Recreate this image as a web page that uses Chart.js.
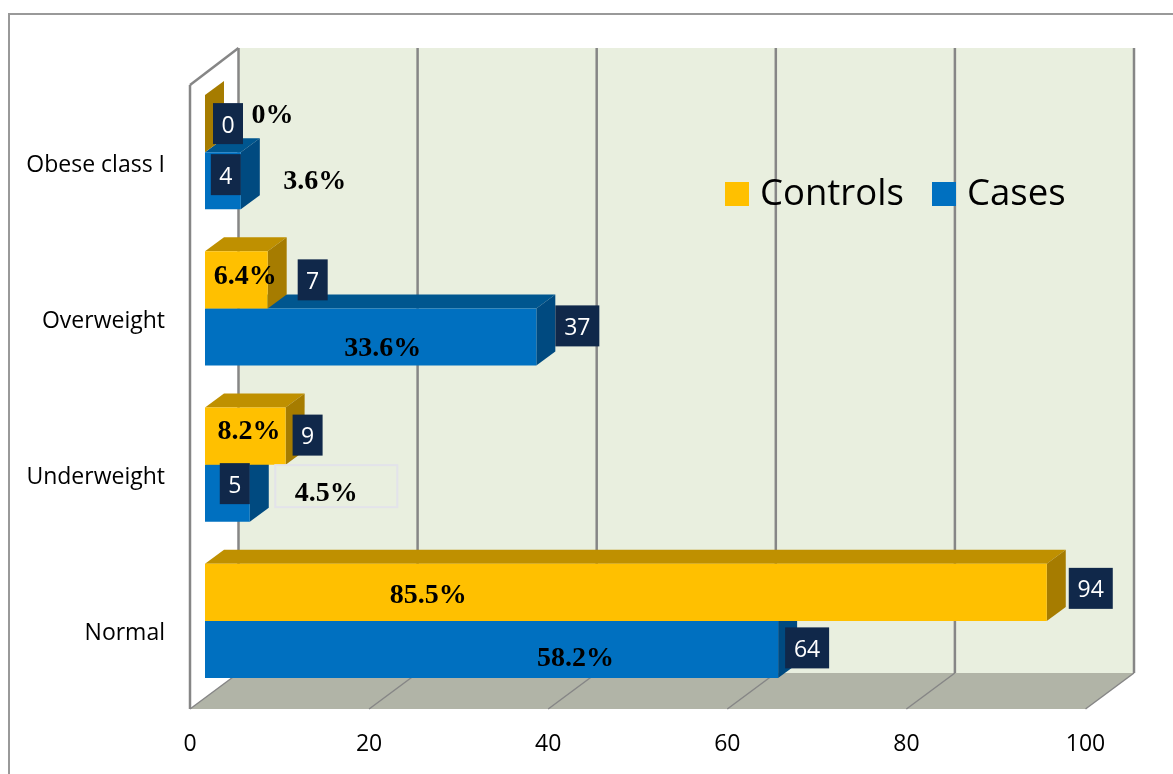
<!DOCTYPE html>
<html>
<head>
<meta charset="utf-8">
<title>BMI categories</title>
<script src="https://cdn.jsdelivr.net/npm/chart.js@4"></script>
<style>
  body { margin: 0; background: #fff; }
  canvas { display: block; }
</style>
</head>
<body>
<canvas id="chart" width="1173" height="774"></canvas>
<script>
const categories = ['Obese class I', 'Overweight', 'Underweight', 'Normal'];
const controls = [0, 7, 9, 94];
const cases = [4, 37, 5, 64];
const controlsPct = ['0%', '6.4%', '8.2%', '85.5%'];
const casesPct = ['3.6%', '33.6%', '4.5%', '58.2%'];
const xTicks = [0, 20, 40, 60, 80, 100];

// label nudges, measured from the bar end and the bar middle: [dx, dy]
const countNudge = [
  [[23, 0], [45, 0], [22, -1], [44, -4]],
  [[-15, -6], [41, -11], [-15, -9.5], [29, -1.5]]
];
const pctNudge = [
  [[67.5, -8], [-22.5, -3], [-36.5, -4], [-618.5, 3]],
  [[74, 1.5], [-153.5, 12], [76.5, 0.5], [-202.5, 9.5]]
];

const FONT = '"Open Sans", sans-serif';
const faces = [
  { top: '#BF9000', side: '#A67C00' },
  { top: '#00568F', side: '#004A80' }
];

// depth of the box the chart sits in, and of a single bar
const WALL_DX = 48.5, WALL_DY = 36, BAR_DX = 19, BAR_DY = 14;
// the front edge of the floor starts left of where the bars do
const FRONT_SHIFT = -15;

function poly(ctx, pts, fill) {
  ctx.beginPath();
  pts.forEach((p, i) => i ? ctx.lineTo(p[0], p[1]) : ctx.moveTo(p[0], p[1]));
  ctx.closePath();
  ctx.fillStyle = fill;
  ctx.fill();
}

function line(ctx, x1, y1, x2, y2, width) {
  ctx.beginPath();
  ctx.moveTo(x1, y1);
  ctx.lineTo(x2, y2);
  ctx.lineWidth = width;
  ctx.strokeStyle = '#868686';
  ctx.stroke();
}

const box3d = {
  id: 'box3d',
  beforeDraw(chart) {
    const { ctx } = chart;
    ctx.save();
    // outer frame, open on the right and at the bottom
    ctx.strokeStyle = '#999999';
    ctx.lineWidth = 2;
    ctx.beginPath();
    ctx.moveTo(9, 774);
    ctx.lineTo(9, 14);
    ctx.lineTo(1173, 14);
    ctx.stroke();
    ctx.restore();
  },
  beforeDatasetsDraw(chart) {
    const { ctx, scales: { x } } = chart;
    const front = v => x.getPixelForValue(v) + FRONT_SHIFT;
    const back = v => front(v) + WALL_DX;
    const floorY = 709, wallBottom = floorY - WALL_DY, frontTop = 85, wallTop = frontTop - WALL_DY - 1;
    ctx.save();
    poly(ctx, [[back(0), wallTop], [back(100), wallTop], [back(100), wallBottom], [back(0), wallBottom]], '#E9EFDF');
    poly(ctx, [[front(0), floorY], [back(0), wallBottom], [back(100), wallBottom], [front(100), floorY]], '#B1B4A7');
    xTicks.forEach(v => {
      line(ctx, back(v), wallTop, back(v), wallBottom, 2.5);
      line(ctx, front(v), floorY, back(v), wallBottom, 1.5);
    });
    line(ctx, front(0), frontTop, front(0), floorY, 2.5);
    line(ctx, front(0), frontTop, back(0), wallTop, 2.5);

    // tops and end faces of the bars, blue first so the gold faces sit over them
    [1, 0].forEach(d => {
      chart.getDatasetMeta(d).data.forEach(bar => {
        const y0 = bar.y - bar.height / 2, y1 = bar.y + bar.height / 2;
        const x0 = x.getPixelForValue(0), x1 = bar.x;
        poly(ctx, [[x0, y0], [x0 + BAR_DX, y0 - BAR_DY], [x1 + BAR_DX, y0 - BAR_DY], [x1, y0]], faces[d].top);
        poly(ctx, [[x1, y0], [x1 + BAR_DX, y0 - BAR_DY], [x1 + BAR_DX, y1 - BAR_DY], [x1, y1]], faces[d].side);
      });
    });
    ctx.restore();
  },
  afterDatasetsDraw(chart) {
    const { ctx } = chart;
    const pct = [controlsPct, casesPct];
    ctx.save();
    ctx.textBaseline = 'middle';
    ctx.textAlign = 'center';

    chart.data.datasets.forEach((ds, d) => {
      chart.getDatasetMeta(d).data.forEach((bar, i) => {
        // count in a dark box
        const [cdx, cdy] = countNudge[d][i];
        const cx = bar.x + cdx, cy = bar.y + cdy;
        const w = String(ds.data[i]).length > 1 ? 44 : 30;
        ctx.fillStyle = '#10284A';
        ctx.fillRect(cx - w / 2, cy - 20.5, w, 41);
        ctx.fillStyle = '#FFFFFF';
        ctx.font = '23px ' + FONT;
        ctx.fillText(ds.data[i], cx, cy + 2.5);
      });
    });

    chart.data.datasets.forEach((ds, d) => {
      chart.getDatasetMeta(d).data.forEach((bar, i) => {
        const [pdx, pdy] = pctNudge[d][i];
        const px = bar.x + pdx, py = bar.y + pdy;
        // the 4.5% label keeps the faint outline of its text box
        if (pct[d][i] === '4.5%') {
          ctx.strokeStyle = '#E3E3EA';
          ctx.lineWidth = 2;
          ctx.strokeRect(px - 51, py - 28.5, 122, 42);
        }
        ctx.fillStyle = '#000000';
        ctx.font = 'bold 28px "Liberation Serif", serif';
        ctx.fillText(pct[d][i], px, py);
      });
    });

    // legend sits inside the plot, over the grid lines
    const legendX = [725, 932];
    ctx.textAlign = 'left';
    ctx.font = '36.5px ' + FONT;
    chart.data.datasets.forEach((ds, d) => {
      ctx.fillStyle = ds.backgroundColor;
      ctx.fillRect(legendX[d], 182, 24, 24);
      ctx.fillStyle = '#000000';
      ctx.fillText(ds.label, legendX[d] + 35, 195);
    });
    ctx.restore();
  }
};

new Chart(document.getElementById('chart'), {
  type: 'bar',
  data: {
    labels: categories,
    datasets: [
      { label: 'Controls', data: controls, backgroundColor: '#FFC000' },
      { label: 'Cases', data: cases, backgroundColor: '#0070C0' }
    ]
  },
  options: {
    indexAxis: 'y',
    responsive: false,
    animation: false,
    categoryPercentage: 0.73,
    barPercentage: 1,
    layout: { padding: { top: 74, right: 72.5, left: 0, bottom: 0 } },
    plugins: { legend: { display: false }, tooltip: { enabled: false } },
    scales: {
      x: {
        min: 0,
        max: 100,
        grid: { display: false },
        border: { display: false },
        afterFit: s => { s.height = 75; },
        afterBuildTicks: s => { s.ticks = xTicks.map(value => ({ value })); },
        ticks: {
          color: '#000000',
          font: { family: FONT, size: 23 },
          padding: 24,
          labelOffset: FRONT_SHIFT,
          maxRotation: 0
        }
      },
      y: {
        grid: { display: false },
        border: { display: false },
        afterFit: s => { s.width = 205; },
        ticks: {
          color: '#000000',
          font: { family: FONT, size: 23 },
          padding: 32,
          labelOffset: 13
        }
      }
    }
  },
  plugins: [box3d]
});
</script>
</body>
</html>
